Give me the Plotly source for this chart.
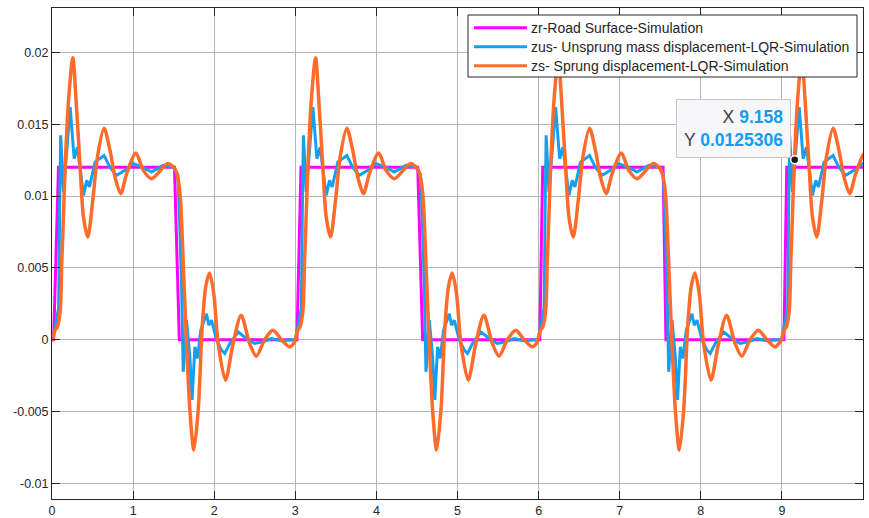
import plotly.graph_objects as go

# Road surface input (square bump profile), time in s, height in m
road_t = [0.0, 0.02, 0.08, 1.51, 1.57, 3.02, 3.07, 4.51, 4.57, 6.015, 6.05,
          7.535, 7.57, 9.025, 9.06, 10.0]
road_z = [0.0, 0.0, 0.012, 0.012, 0.0, 0.0, 0.012, 0.012, 0.0, 0.0, 0.012,
          0.012, 0.0, 0.0, 0.012, 0.012]

# Times at which each bump starts (the response repeats after every bump)
bump_start = [0.052, 3.045, 6.038, 9.041]

# One bump cycle of the unsprung mass response: time after bump start, displacement
zus_off = [-0.045, -0.015, 0.005, 0.03, 0.042, 0.055, 0.09, 0.172, 0.221, 0.262,
           0.336, 0.377, 0.41, 0.479, 0.59, 0.663, 0.745, 0.869, 0.951, 1.074,
           1.175, 1.32, 1.443, 1.5, 1.52, 1.545, 1.566, 1.607, 1.648, 1.675,
           1.71, 1.742, 1.783, 1.853, 1.882, 1.915, 1.977, 2.035, 2.078, 2.14,
           2.243, 2.345, 2.445, 2.55, 2.652, 2.775, 2.92]
zus_val = [0.0, 0.0009, 0.0016, 0.0022, 0.009, 0.01423, 0.01028, 0.0162, 0.0126,
           0.0134, 0.01005, 0.0111, 0.01063, 0.01237, 0.01283, 0.0120, 0.01144,
           0.01186, 0.01226, 0.0120, 0.01167, 0.01214, 0.0120, 0.0115, 0.0085,
           0.004, -0.00224, 0.00136, -0.0012, -0.0042, -0.0005, -0.0013, 0.00066,
           0.0018, 0.001, 0.00136, 0.0, -0.0007, -0.00096, -0.00027, 0.00054,
           0.00008, -0.00027, -0.00015, 0.00008, -0.00008, 0.0]

# One bump cycle of the sprung mass response: time after bump start, displacement
zs_off = [-0.045, -0.015, 0.015, 0.049, 0.069, 0.082, 0.11, 0.152, 0.205, 0.245,
          0.295, 0.336, 0.389, 0.451, 0.508, 0.59, 0.663, 0.725, 0.795, 0.869,
          0.983, 1.074, 1.176, 1.373, 1.463, 1.505, 1.533, 1.565, 1.598, 1.648,
          1.697, 1.751, 1.8, 1.844, 1.89, 1.943, 1.997, 2.087, 2.181, 2.28,
          2.385, 2.468, 2.57, 2.673, 2.775, 2.878, 2.935]
zs_val = [0.0, 0.00066, 0.0009, 0.002, 0.0055, 0.0074, 0.012, 0.01666, 0.01963,
          0.01666, 0.012, 0.00854, 0.00715, 0.0097, 0.01272, 0.01473, 0.01318,
          0.01133, 0.01017, 0.01156, 0.013, 0.01179, 0.01121, 0.01226, 0.0119,
          0.0111, 0.0097, 0.0055, 0.0009, -0.0049, -0.00769, -0.0049, 0.0009,
          0.0037, 0.00465, 0.0032, -0.00027, -0.00282, -0.00027, 0.0017,
          -0.00027, -0.00115, 0.0, 0.00066, 0.0, -0.0005, -0.0002]

# Data tip readout
tip_x = 9.158
tip_y = 0.0125306

x_ticks = [0, 1, 2, 3, 4, 5, 6, 7, 8, 9, 10]
y_ticks = [-0.01, -0.005, 0, 0.005, 0.01, 0.015, 0.02]
y_tick_text = ["-0.01", "-0.005", "0", "0.005", "0.01", "0.015", "0.02"]

series_names = ["zr-Road Surface-Simulation",
                "zus- Unsprung mass displacement-LQR-Simulation",
                "zs- Sprung displacement-LQR-Simulation"]
series_colors = ["#ff00ff", "#169ff0", "#ff6b2b"]


def lay_out(offsets, values, starts):
    """Place the per-bump response after each bump start time."""
    t, z = [0.0], [0.0]
    for s in starts:
        for o, v in zip(offsets, values):
            if s + o > 0:
                t.append(s + o)
                z.append(v)
    return t, z


zus_t, zus_z = lay_out(zus_off, zus_val, bump_start)
zs_t, zs_z = lay_out(zs_off, zs_val, bump_start)

W, H = 869, 518
M_L, M_R, M_T, M_B = 52, 6, 8, 19
PLOT_W, PLOT_H = W - M_L - M_R, H - M_T - M_B


def px(x):
    return (x - M_L) / PLOT_W


def py(y):
    return (H - M_B - y) / PLOT_H


ink = "#262626"
font_family = "Liberation Sans, Arial"
fig = go.Figure()
fig.add_trace(go.Scatter(x=road_t, y=road_z, mode="lines", name=series_names[0],
                         line=dict(color=series_colors[0], width=3)))
fig.add_trace(go.Scatter(x=zus_t, y=zus_z, mode="lines", name=series_names[1],
                         line=dict(color=series_colors[1], width=3)))
fig.add_trace(go.Scatter(x=zs_t, y=zs_z, mode="lines", name=series_names[2],
                         line=dict(color=series_colors[2], width=3.5,
                                   shape="spline", smoothing=0.8)))

# Data tip marker and readout box
fig.add_trace(go.Scatter(x=[tip_x], y=[tip_y], mode="markers", showlegend=False,
                         hoverinfo="skip",
                         marker=dict(color="#1a1a1a", size=8,
                                     line=dict(color="white", width=1.5))))
fig.add_annotation(
    x=tip_x, y=tip_y, xanchor="right", yanchor="bottom", showarrow=False,
    xshift=-4, yshift=2, align="right",
    text=("X <span style='color:#129cf2'><b>%s</b></span><br>"
          "Y <span style='color:#129cf2'><b>%s</b></span>") % (tip_x, tip_y),
    font=dict(family=font_family, size=17.5, color="#404040"),
    bgcolor="#f7f7fa", bordercolor="#c8c8c8", borderwidth=1, borderpad=7)

# Boxed legend in the upper right of the axes
legend_box = dict(x0=468, x1=857, y0=15, y1=77)
row_y = [27.7, 46.7, 65.7]
fig.add_shape(type="rect", xref="paper", yref="paper", layer="above",
              x0=px(legend_box["x0"]), x1=px(legend_box["x1"]),
              y0=py(legend_box["y1"]), y1=py(legend_box["y0"]),
              fillcolor="white", line=dict(color=ink, width=1))
for name, color, ry in zip(series_names, series_colors, row_y):
    fig.add_shape(type="line", xref="paper", yref="paper", layer="above",
                  x0=px(474), x1=px(527), y0=py(ry), y1=py(ry),
                  line=dict(color=color, width=3))
    fig.add_annotation(xref="paper", yref="paper", x=px(530), y=py(ry),
                       xanchor="left", yanchor="middle", showarrow=False,
                       text=name, borderpad=0,
                       font=dict(family=font_family, size=14, color=ink))

axis_common = dict(showline=True, linecolor=ink, linewidth=1, mirror="ticks",
                   ticks="inside", ticklen=8, tickcolor=ink, showgrid=True,
                   gridcolor="#b4b4b4", gridwidth=1, zeroline=False,
                   automargin=False,
                   tickfont=dict(family=font_family, size=12.5, color=ink))
fig.update_xaxes(range=[0, 10], tickvals=x_ticks, **axis_common)
fig.update_yaxes(range=[-0.0111, 0.0231], tickvals=y_ticks,
                 ticktext=y_tick_text, **axis_common)

fig.update_layout(
    width=W, height=H,
    margin=dict(l=M_L, r=M_R, t=M_T, b=M_B),
    paper_bgcolor="white", plot_bgcolor="white",
    showlegend=False,
)

fig.write_html("out.html")
